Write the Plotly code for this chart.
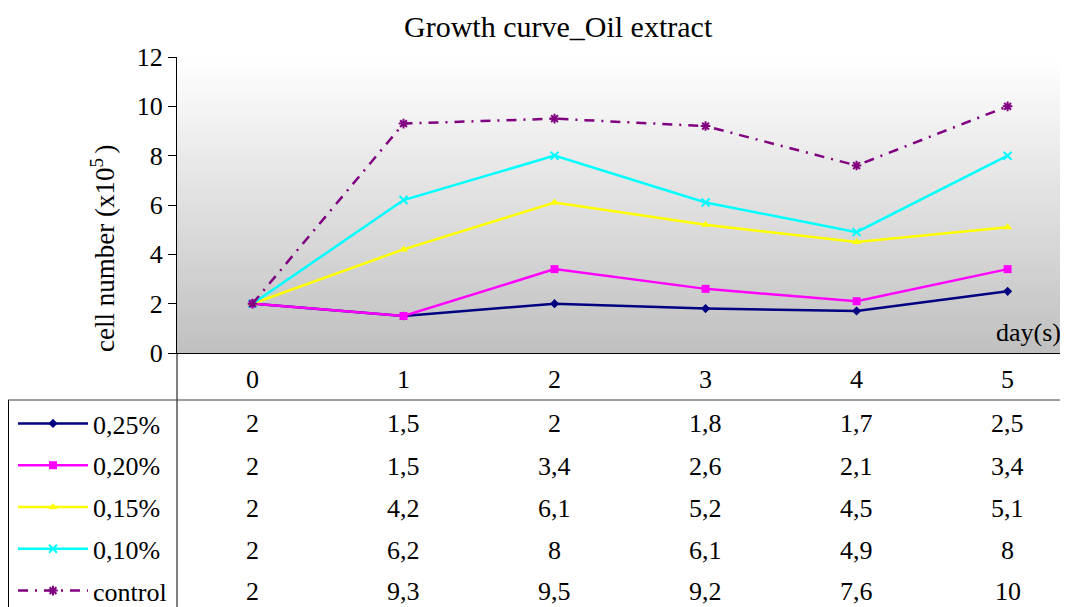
import plotly.graph_objects as go

days = [0, 1, 2, 3, 4, 5]
series_names = ["0,25%", "0,20%", "0,15%", "0,10%", "control"]
s025 = [2, 1.5, 2, 1.8, 1.7, 2.5]
s020 = [2, 1.5, 3.4, 2.6, 2.1, 3.4]
s015 = [2, 4.2, 6.1, 5.2, 4.5, 5.1]
s010 = [2, 6.2, 8, 6.1, 4.9, 8]
control = [2, 9.3, 9.5, 9.2, 7.6, 10]
y_ticks = [0, 2, 4, 6, 8, 10, 12]

series_values = [s025, s020, s015, s010, control]
colors = ["#000080", "#FF00FF", "#FFFF00", "#00FFFF", "#800080"]
symbols = ["diamond", "square", "triangle-up", "x-thin-open", "asterisk-open"]
sizes = [7, 8, 8, 8, 8]
dashes = ["solid", "solid", "solid", "solid", "10px,7px,2px,7px"]

# page body has an 8px margin: figure pixel = screen pixel - 8
OFF = 8
FW, FH = 1060, 680
MB = 120
IH = FH - MB
FONT = '"Liberation Serif", "DejaVu Serif", serif'


def px_x(p):
    return (p - OFF) / FW


def px_y(p):
    return (IH - (p - OFF)) / IH


PL, PR, PT, PB = 177, 1068, 57, 353

fig = go.Figure()

for name, vals, c, sym, sz, dsh in zip(series_names, series_values, colors, symbols, sizes, dashes):
    open_sym = sym.endswith("open")
    fig.add_trace(go.Scatter(
        x=days, y=vals, name=name, mode="lines+markers",
        line=dict(color=c, width=2.5, dash=dsh),
        marker=dict(symbol=sym, size=sz, color=c,
                    line=dict(color=c, width=2 if open_sym else 0)),
        legendgroup=name,
    ))

shapes = []
N = 74
for i in range(N):
    t0 = i / N
    t1 = (i + 1) / N
    tm = (t0 + t1) / 2
    g = int(round(192 + (255 - 192) * tm))
    shapes.append(dict(type="rect", xref="x domain", yref="y domain",
                       x0=0, x1=1, y0=t0, y1=t1 + 0.002,
                       fillcolor=f"rgb({g},{g},{g})", line=dict(width=0), layer="below"))

shapes.append(dict(type="line", xref="paper", yref="paper",
                   x0=px_x(PL), x1=px_x(PL), y0=px_y(PB), y1=px_y(640),
                   line=dict(color="#000000", width=1)))
shapes.append(dict(type="line", xref="paper", yref="paper",
                   x0=px_x(8), x1=1.01, y0=px_y(400), y1=px_y(400),
                   line=dict(color="#404040", width=1)))
shapes.append(dict(type="line", xref="paper", yref="paper",
                   x0=px_x(8.5), x1=px_x(8.5), y0=px_y(400), y1=px_y(640),
                   line=dict(color="#000000", width=1)))

annotations = []
annotations.append(dict(text="Growth curve_Oil extract", xref="paper", yref="paper",
                        x=px_x(558), y=px_y(27), showarrow=False,
                        font=dict(family=FONT, size=30, color="black"),
                        xanchor="center", yanchor="middle"))
annotations.append(dict(text="cell number (x10<sup>5 </sup>)", xref="paper", yref="paper",
                        x=px_x(103), y=px_y(248), showarrow=False, textangle=-90,
                        font=dict(family=FONT, size=27, color="black"),
                        xanchor="center", yanchor="middle"))
annotations.append(dict(text="day(s)", xref="paper", yref="paper",
                        x=px_x(1063), y=px_y(333), showarrow=False,
                        font=dict(family=FONT, size=26, color="black"),
                        xanchor="right", yanchor="middle"))

row_y = [423, 466, 508, 550, 591]
for vals, ry in zip(series_values, row_y):
    for d, v in zip(days, vals):
        txt = (f"{v:g}").replace(".", ",")
        annotations.append(dict(text=txt, xref="x", yref="paper", x=d, y=px_y(ry),
                                showarrow=False, xanchor="center", yanchor="middle",
                                font=dict(family=FONT, size=26, color="black")))

fig.update_layout(
    width=FW, height=FH,
    margin=dict(l=0, r=0, t=0, b=MB, pad=0),
    paper_bgcolor="white",
    plot_bgcolor="rgba(0,0,0,0)",
    font=dict(family=FONT, size=26, color="black"),
    showlegend=True,
    legend=dict(x=px_x(13), y=px_y(400), xanchor="left", yanchor="top",
                font=dict(family=FONT, size=26, color="black"),
                itemwidth=70, tracegroupgap=5, bgcolor="rgba(0,0,0,0)",
                traceorder="grouped"),
    shapes=shapes,
    annotations=annotations,
    hovermode=False,
)

fig.update_xaxes(domain=[px_x(PL), 1], range=[-0.5, 5.4],
                 tickvals=days, ticktext=[str(d) for d in days],
                 showgrid=False, zeroline=False, showline=True, linecolor="black",
                 linewidth=1, ticks="", ticklabelstandoff=3, automargin=False,
                 tickfont=dict(family=FONT, size=26, color="black"))
fig.update_yaxes(domain=[px_y(PB), px_y(PT)], range=[0, 12], tickvals=y_ticks,
                 showgrid=False, zeroline=False, showline=True, linecolor="black",
                 linewidth=1, ticks="outside", ticklen=8, tickcolor="black", automargin=False,
                 tickfont=dict(family=FONT, size=26, color="black"))

fig.write_html("out.html")
